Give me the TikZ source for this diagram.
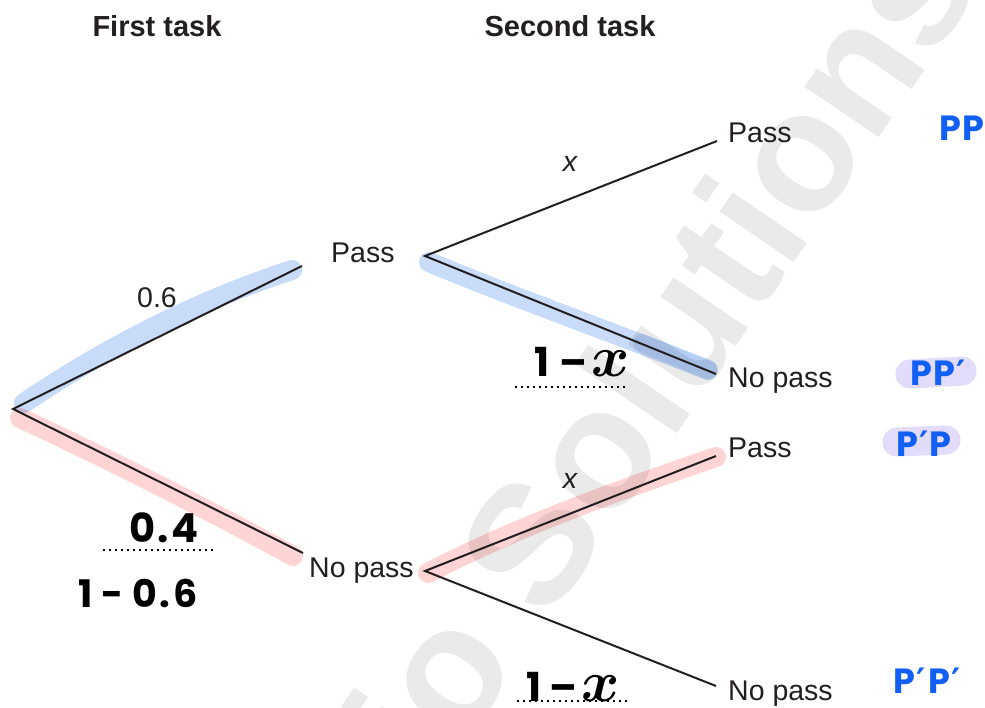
\RequirePackage{fix-cm}
\documentclass[tikz,border=0pt]{standalone}
\usepackage{fontspec}
\setmainfont{Liberation Sans}
\newfontfamily\hand{Poppins}
\newfontfamily\primefont{DejaVu Sans}
\definecolor{ink}{RGB}{35,31,32}
\definecolor{wm}{RGB}{234,234,234}
\definecolor{hlb}{RGB}{200,220,249}
\definecolor{hlr}{RGB}{254,212,212}
\definecolor{hlp}{RGB}{226,220,250}
\definecolor{penblue}{RGB}{18,95,245}
\newcommand{\pr}{{\primefont\bfseries ′}}
\begin{document}
\begin{tikzpicture}[x=1pt,y=-1pt,
  lbl/.style={font=\fontsize{28.5}{30}\selectfont, text=ink, inner sep=0pt, anchor=base west},
  head/.style={font=\bfseries\fontsize{29}{31}\selectfont, text=ink, inner sep=0pt, anchor=base},
  prob/.style={font=\fontsize{28.5}{30}\selectfont, text=ink, inner sep=0pt, anchor=base},
  branch/.style={draw=ink, line width=2pt},
  hlblue/.style={draw=hlb, line width=20pt, line cap=round},
  hlred/.style={draw=hlr, line width=20pt, line cap=round},
  hlpurple/.style={draw=hlp, line width=29pt, line cap=round},
  pen/.style={inner sep=0pt, text=black, font=\hand\bfseries\fontsize{40}{40}\selectfont},
  bluepen/.style={inner sep=0pt, text=penblue, font=\hand\bfseries\fontsize{35}{35}\selectfont},
  dotline/.style={draw=black, line width=2pt, dash pattern=on 2pt off 4pt}
]
\useasboundingbox (0,0) rectangle (985,708);
\fill[white] (0,0) rectangle (985,708);

% faint background lettering
\begin{scope}
  \clip (0,0) rectangle (985,708);
  \node[rotate=55.7, anchor=base west, inner sep=0pt, text=wm,
        font=\bfseries\fontsize{170}{170}\selectfont] (wmark) at (436,787) {io Solutions};
\end{scope}

% branch points
\coordinate (root) at (13,409);
\coordinate (aP) at (302,266);
\coordinate (aN) at (303,553);
\coordinate (bP) at (425,256);
\coordinate (bN) at (425,571);
\coordinate (cPP) at (717,141);
\coordinate (cPN) at (716,374);
\coordinate (cNP) at (716,456);
\coordinate (cNN) at (716,686);

% marker highlights
\begin{scope}[blend mode=multiply]
  \draw[hlblue] (24,403) .. controls (110,345) and (200,300) .. (292,270);
  \draw[hlred] (20,418) .. controls (100,455) and (200,505) .. (293,556);
  \draw[hlblue] (429,262) .. controls (520,300) and (620,335) .. (708,370);
  \draw[hlblue, line width=18pt, draw opacity=0.45] (642,343) -- (708,370);
  \draw[hlred] (428,573) .. controls (520,525) and (620,490) .. (716,457);
  \draw[hlpurple] (910,374) -- (962,371);
  \draw[hlpurple] (897,442) -- (946,440);
\end{scope}

% tree branches
\draw[branch] (aP) -- (root) -- (aN);
\draw[branch] (cPP) -- (bP) -- (cPN);
\draw[branch] (cNP) -- (bN) -- (cNN);

% headings
\node[head] (h1) at (157,37) {First task};
\node[head] (h2) at (570,37) {Second task};

% outcomes
\node[lbl] (tP) at (331,263) {Pass};
\node[lbl] (tN) at (309,577) {No pass};
\node[lbl] (tPP) at (728,143) {Pass};
\node[lbl] (tPN) at (728,388) {No pass};
\node[lbl] (tNP) at (728,457) {Pass};
\node[lbl] (tNN) at (728,700) {No pass};

% printed probabilities
\node[prob] (p06) at (157,308) {0.6};
\node[prob, font=\itshape\fontsize{28.5}{30}\selectfont] (px1) at (570,172) {x};
\node[prob, font=\itshape\fontsize{28.5}{30}\selectfont] (px2) at (570,488) {x};

% handwritten working
\node[pen] (hx1) at (582,362) {1\hspace{10pt}–\hspace{4pt}{\fontsize{58}{58}\selectfont\boldmath$x$}};
\node[pen] (hx2) at (573,687) {1\hspace{8pt}–\hspace{4pt}{\fontsize{58}{58}\selectfont\boldmath$x$}};
\node[pen] (h04) at (164,528) {0\hspace{2pt}.\hspace{3pt}4};
\node[pen, font=\hand\bfseries\fontsize{38}{38}\selectfont] (h106) at (138,593) {1\hspace{9pt}-\hspace{9pt}0\hspace{2pt}.\hspace{3pt}6};
\draw[dotline] (515,387) -- (625,387);
\draw[dotline] (517,701) -- (627,701);
\draw[dotline] (103,550) -- (213,550);

% outcome notation
\node[bluepen] (oPP) at (962,128) {P\hspace{1pt}P};
\node[bluepen] (oPN) at (938,373) {P\hspace{1pt}P\hspace{1pt}\pr};
\node[bluepen] (oNP) at (924,444) {P\hspace{1pt}\pr\hspace{1pt}P};
\node[bluepen] (oNN) at (927,681) {P\hspace{1pt}\pr\hspace{3pt}P\hspace{1pt}\pr};
\end{tikzpicture}
\end{document}
